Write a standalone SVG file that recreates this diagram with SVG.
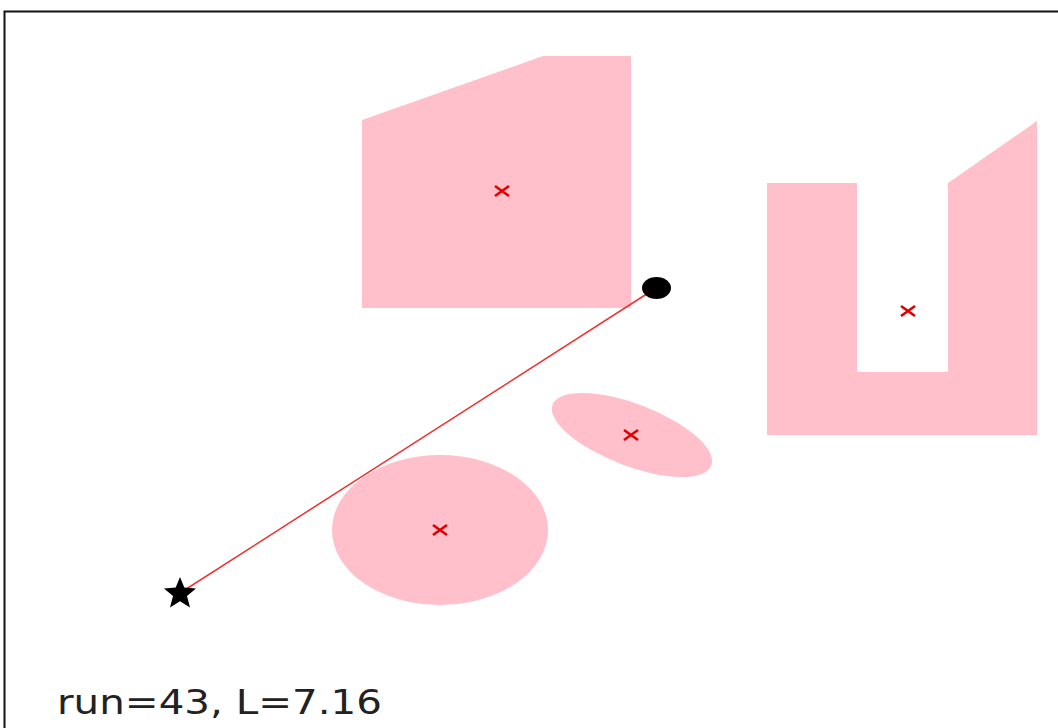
<svg xmlns="http://www.w3.org/2000/svg" width="1058" height="728" viewBox="0 0 1058 728">
<style>
.obs{fill:#FFC0CB;stroke:none}
.mk{stroke:#E00000;stroke-width:2.6;fill:none}
.txt{font-family:"DejaVu Sans",sans-serif;font-size:33px;fill:#222}
</style>
<defs>
<g id="xm"><path class="mk" d="M-7,-5L7,5M-7,5L7,-5"/></g>
</defs>
<rect x="0" y="0" width="1058" height="728" fill="#fff"/>
<rect x="4.5" y="11.5" width="1070" height="740" fill="none" stroke="#111" stroke-width="2"/>
<g id="obstacle-pentagon">
<polygon class="obs" points="362,120 543,56 631,56 631,308 362,308"/>
<use href="#xm" x="502" y="191"/>
</g>
<g id="obstacle-u">
<polygon class="obs" points="767,183 857,183 857,372 948,372 948,183 1037,121 1037,435 767,435"/>
<use href="#xm" x="908" y="311"/>
</g>
<g id="obstacle-ellipse">
<ellipse class="obs" cx="632" cy="435" rx="85" ry="31" transform="rotate(21 632 435)"/>
<use href="#xm" x="631" y="435"/>
</g>
<g id="obstacle-circle">
<ellipse class="obs" cx="440" cy="530" rx="108" ry="75"/>
<use href="#xm" x="440" y="530"/>
</g>
<g id="connectors">
<line x1="180" y1="593" x2="656" y2="288" stroke="#F03030" stroke-width="1.5"/>
</g>
<g id="goal">
<ellipse cx="656.5" cy="288" rx="14.5" ry="11" fill="#000"/>
</g>
<g id="start">
<polygon fill="#000" points="180,577 184.3,587.6 196,588.5 187,596 190,607.5 180,601.2 170,607.5 173,596 164,588.5 175.7,587.6"/>
</g>
<text class="txt" x="57" y="714" textLength="325" lengthAdjust="spacingAndGlyphs">run=43, L=7.16</text>
</svg>
